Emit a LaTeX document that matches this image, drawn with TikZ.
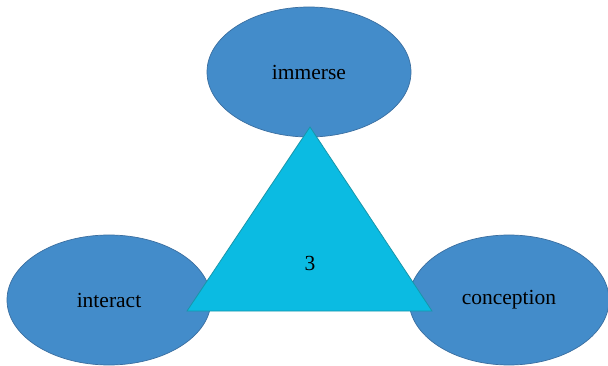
\documentclass[tikz,border=0pt]{standalone}
\usepackage{fontspec}
\setmainfont{Liberation Serif}
\usetikzlibrary{shapes.geometric}
\definecolor{ellfill}{RGB}{67,140,202}
\definecolor{elldraw}{RGB}{58,110,160}
\definecolor{trifill}{RGB}{11,187,226}
\definecolor{tridraw}{RGB}{24,150,170}
\begin{document}
\begin{tikzpicture}[x=1pt,y=-1pt,
  blob/.style={ellipse,fill=ellfill,draw=elldraw,line width=0.7pt,minimum width=204pt,minimum height=130pt,inner sep=0pt,font=\fontsize{21.5}{24}\selectfont},
  lbl/.style={font=\fontsize{21.5}{24}\selectfont,inner sep=0pt}]
\useasboundingbox (0,0) rectangle (608,366);
\node[blob] (immerse) at (309,72) {immerse};
\node[blob] (interact) at (109,300) {interact};
\node[blob,minimum width=200pt] (conception) at (509,300) {conception};
\coordinate (apex) at (310,127);
\coordinate (bl) at (187,311);
\coordinate (br) at (432,311);
\draw[fill=trifill,draw=tridraw,line width=0.8pt,line join=miter] (apex) -- (bl) -- (br) -- cycle;
\node[lbl] (three) at (310,263) {3};
\end{tikzpicture}
\end{document}
